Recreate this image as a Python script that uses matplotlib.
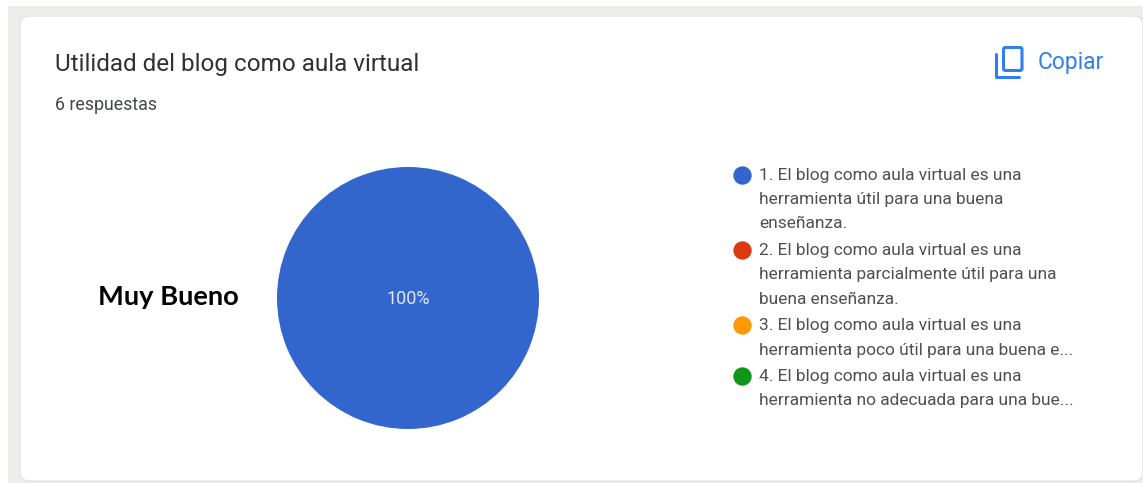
import matplotlib

matplotlib.use("Agg")
import matplotlib.pyplot as plt
from matplotlib.patches import FancyBboxPatch

plt.rcParams["font.family"] = "Roboto"

title = "Utilidad del blog como aula virtual"
responses = "6 respuestas"
copy_label = "Copiar"
annotation = "Muy Bueno"

pie_values = [6, 0, 0, 0]
pie_colors = ["#3366cc", "#dc3912", "#ff9900", "#109618"]
pie_label = "100%"
legend_lines = [
    [
        "1. El blog como aula virtual es una",
        "herramienta útil para una buena",
        "enseñanza.",
    ],
    [
        "2. El blog como aula virtual es una",
        "herramienta parcialmente útil para una",
        "buena enseñanza.",
    ],
    [
        "3. El blog como aula virtual es una",
        "herramienta poco útil para una buena e...",
    ],
    [
        "4. El blog como aula virtual es una",
        "herramienta no adecuada para una bue...",
    ],
]

W, H = 1143, 483
fig = plt.figure(figsize=(W / 100, H / 100), dpi=100, facecolor="white")
ax = fig.add_axes([0, 0, 1, 1])
ax.set_xlim(0, W)
ax.set_ylim(H, 0)
ax.axis("off")

# page background and card
ax.add_patch(plt.Rectangle((8, 6), W - 8, H - 6, fc="#eeedeb", ec="none", zorder=0))
ax.add_patch(
    FancyBboxPatch(
        (29, 25),
        W - 29 - 9,
        447,
        boxstyle="round,pad=9,rounding_size=9",
        fc="white",
        ec="#e2e5e7",
        lw=1.0,
        zorder=1,
    )
)

ax.text(55, 64, title, fontsize=17.5, color="#303134", va="center", zorder=3)
ax.text(55, 105, responses, fontsize=12.8, color="#44474a", va="center", zorder=3)

# copy icon
ax.add_patch(
    FancyBboxPatch(
        (1003.5, 47.5),
        18.5,
        23,
        boxstyle="round,pad=0,rounding_size=2",
        fc="none",
        ec="#2f80ed",
        lw=2.2,
        zorder=3,
    )
)
ax.plot(
    [996, 996, 1019],
    [54, 76.5, 76.5],
    color="#2f80ed",
    lw=2.2,
    solid_capstyle="round",
    solid_joinstyle="round",
    zorder=3,
)
ax.text(1038, 62.5, copy_label, fontsize=16.4, color="#2f80ed", va="center", zorder=3)

# pie
wedges, _ = ax.pie(
    pie_values,
    colors=pie_colors,
    center=(408, 298),
    radius=131,
    startangle=90,
    counterclock=False,
    frame=True,
)
for w in wedges:
    w.set_zorder(2)
ax.set_xlim(0, W)
ax.set_ylim(H, 0)
ax.set_aspect("equal")
ax.axis("off")
ax.text(
    408, 299, pie_label, fontsize=13, color="#dfe6f5", ha="center", va="center", zorder=3
)

ax.text(
    98,
    297,
    annotation,
    fontsize=19.6,
    fontweight="bold",
    family="Lato",
    color="black",
    va="center",
    zorder=3,
)

# legend
y = 175
for lines, color in zip(legend_lines, pie_colors):
    ax.scatter([742], [y], s=175, color=color, linewidths=0, zorder=3)
    for i, line in enumerate(lines):
        ax.text(
            759, y + i * 24.2 + 0.6, line, fontsize=12.5, color="#505050", va="center", zorder=3
        )
    y += len(lines) * 24.2 + 2.5 if len(lines) == 3 else len(lines) * 25.5

fig.savefig("out.png", dpi=100, facecolor="white")
